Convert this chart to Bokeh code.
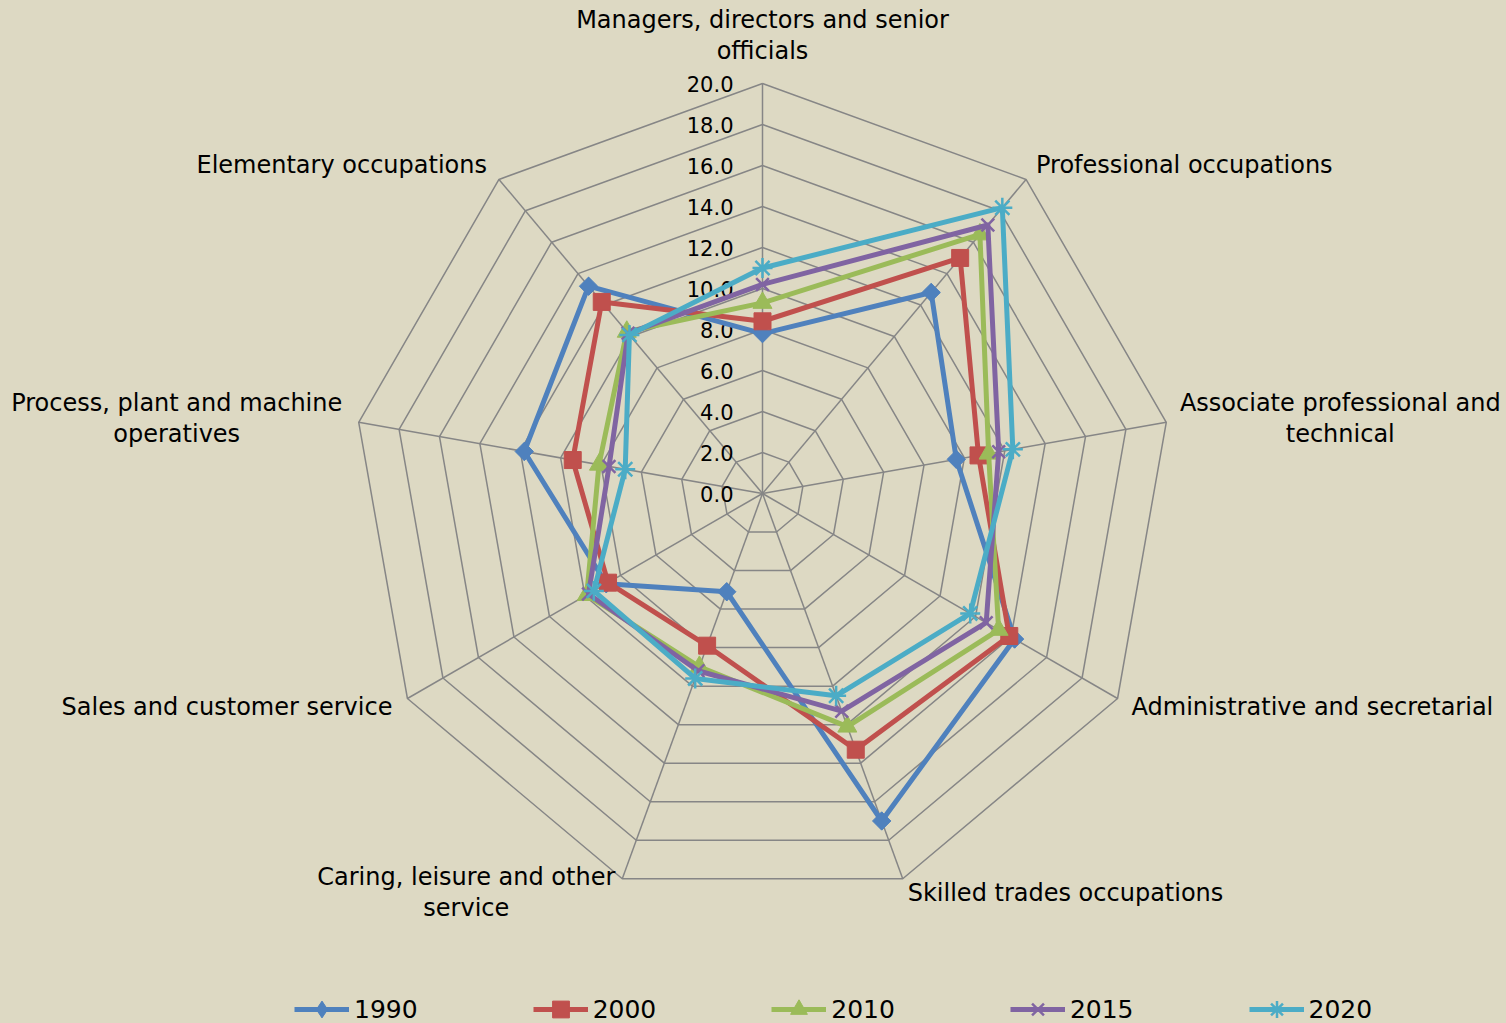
import numpy as np
from bokeh.plotting import figure
from bokeh.models import Range1d, Legend, LegendItem, ColumnDataSource
from bokeh.core.properties import value
from bokeh.embed import file_html
from bokeh.resources import INLINE

categories = [
    "Managers, directors and senior\nofficials",
    "Professional occupations",
    "Associate professional and\ntechnical",
    "Administrative and secretarial",
    "Skilled trades occupations",
    "Caring, leisure and other\nservice",
    "Sales and customer service",
    "Process, plant and machine\noperatives",
    "Elementary occupations",
]
years = ["1990", "2000", "2010", "2015", "2020"]
v1990 = [7.8, 12.8, 9.6, 14.2, 17.0, 5.1, 8.8, 11.8, 13.2]
v2000 = [8.4, 15.0, 10.7, 13.9, 13.3, 7.9, 8.7, 9.4, 12.2]
v2010 = [9.3, 16.5, 11.2, 13.3, 12.1, 9.0, 9.9, 8.1, 10.3]
v2015 = [10.2, 17.1, 11.7, 12.6, 11.3, 9.2, 9.8, 7.6, 10.2]
v2020 = [11.0, 18.2, 12.4, 11.7, 10.5, 9.6, 9.5, 6.8, 10.1]
tick_values = [0, 2, 4, 6, 8, 10, 12, 14, 16, 18, 20]
tick_labels = ["0.0", "2.0", "4.0", "6.0", "8.0", "10.0", "12.0", "14.0", "16.0", "18.0", "20.0"]

series = [v1990, v2000, v2010, v2015, v2020]
colors = ["#4F81BD", "#C0504D", "#9BBB59", "#8064A2", "#4BACC6"]
markers = ["square", "square", "triangle", "x", "asterisk"]
legend_markers = ["diamond", "square", "triangle", "x", "asterisk"]
marker_sizes = [13, 17, 19, 18, 20]
marker_angles = [np.pi / 4, 0, 0, 0, 0]

BG = "#DDD9C3"
GRID = "#868686"
FONT = "DejaVu Sans"

W, H = 1506, 1023
CX, CY = 762, 493   # centre in figure pixels
PX = 20.5           # pixels per unit

n = len(categories)
ang = np.deg2rad(np.arange(n) * 360.0 / n)
sa, ca = np.sin(ang), np.cos(ang)

p = figure(width=W, height=H, output_backend="svg", toolbar_location=None,
           x_range=Range1d(-CX / PX, (W - CX) / PX),
           y_range=Range1d(-(H - CY) / PX, CY / PX),
           min_border=0, background_fill_color=BG, border_fill_color=BG,
           outline_line_color=None)
p.axis.visible = False
p.grid.visible = False

# grid rings
rmax = tick_values[-1]
ring_xs = [list(np.append(r * sa, r * sa[0])) for r in tick_values[1:]]
ring_ys = [list(np.append(r * ca, r * ca[0])) for r in tick_values[1:]]
p.multi_line(ring_xs, ring_ys, line_color=GRID, line_width=1.5)
# spokes
p.multi_line([[0, rmax * s] for s in sa], [[0, rmax * c] for c in ca],
             line_color=GRID, line_width=1.5)

# tick labels
p.text(x=[0] * len(tick_values), y=tick_values, text=tick_labels,
       text_align="right", text_baseline="middle", x_offset=-29,
       text_font=value(FONT), text_font_size="21px", text_color="#000000")

# category labels
lab_align = ["center", "left", "center", "left", "left", "center", "right", "center", "right"]
lab_dx = [0, 10, 174, 14, 5, -156, -15, -182, -12]
lab_dy = [-48, -14, -4, 8, 14, 14, 8, -4, -14]
p.text(x=list(rmax * sa), y=list(rmax * ca), text=categories,
       text_align=lab_align, text_baseline="middle", x_offset=lab_dx, y_offset=lab_dy,
       text_font=value(FONT), text_font_size="24px", text_color="#000000",
       text_line_height=1.1)

items = []
for yr, vals, col, mk, lmk, ms, ma in zip(years, series, colors, markers, legend_markers,
                                          marker_sizes, marker_angles):
    v = np.array(vals)
    xs = list(np.append(v * sa, v[0] * sa[0]))
    ys = list(np.append(v * ca, v[0] * ca[0]))
    lw = 2.5 if mk in ("x", "asterisk") else 1
    src = ColumnDataSource(dict(x=list(v * sa), y=list(v * ca)))
    lr = p.line(xs, ys, line_color=col, line_width=5, line_join="round")
    if lmk != mk:
        # upright diamond used for the legend key; it sits fully inside the rotated square
        kr = p.scatter("x", "y", source=src, marker=lmk, size=ms * 1.35,
                       fill_color=col, line_color=col, line_width=lw)
    sr = p.scatter("x", "y", source=src, marker=mk, size=ms, angle=ma,
                   fill_color=col, line_color=col, line_width=lw)
    items.append(LegendItem(label=yr, renderers=[lr, kr if lmk != mk else sr]))

legend = Legend(items=items, orientation="horizontal", location=(294, -7),
                background_fill_alpha=0, border_line_color=None,
                glyph_width=55, glyph_height=42, label_standoff=5, spacing=115,
                padding=0, margin=0, label_text_font=FONT, label_text_font_size="25px",
                label_text_color="#000000", label_height=42)
p.add_layout(legend)

html = file_html(p, INLINE).replace("<head>", "<head><style>body{background:%s;}</style>" % BG, 1)
open("out.html", "w").write(html)
